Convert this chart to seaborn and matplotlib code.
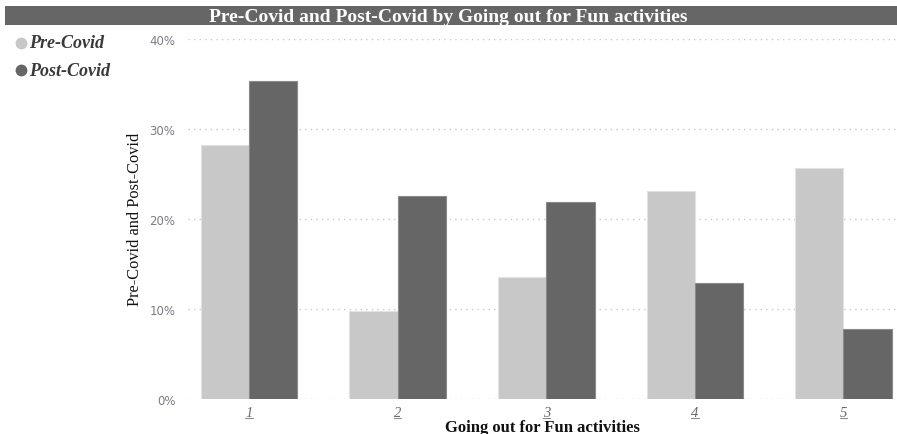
import matplotlib
matplotlib.use("Agg")
import matplotlib.pyplot as plt
from matplotlib.patches import Rectangle
from matplotlib.lines import Line2D
from matplotlib.ticker import FuncFormatter
import seaborn as sns
import pandas as pd

# Share of respondents per rating for going out for fun activities
categories = ["1", "2", "3", "4", "5"]
pre_covid = [28.2, 9.7, 13.5, 23.1, 25.7]
post_covid = [35.3, 22.5, 21.9, 12.9, 7.8]
series_names = ["Pre-Covid", "Post-Covid"]
colors = {"Pre-Covid": "#C8C8C8", "Post-Covid": "#666666"}
y_ticks = [0, 10, 20, 30, 40]

df = pd.DataFrame({
    "rating": categories * 2,
    "share": pre_covid + post_covid,
    "period": [series_names[0]] * len(categories) + [series_names[1]] * len(categories),
})

sns.set_theme(style="white")
serif = ["Liberation Serif", "DejaVu Serif"]
plt.rcParams["font.family"] = ["DejaVu Sans"]

W, H = 897, 435
fig = plt.figure(figsize=(W / 100, H / 100), dpi=100)
ax = fig.add_axes([188 / W, 1 - 399.7 / H, 1 - 188 / W, (399.7 - 40) / H])

sns.barplot(data=df, x="rating", y="share", hue="period", order=categories,
            hue_order=series_names, palette=colors, width=0.65, gap=0,
            saturation=1, legend=False, ax=ax, zorder=3)
for patch in ax.patches:
    fc = patch.get_facecolor()
    patch.set_edgecolor("#E2E2E2" if fc[0] > 0.6 else "#8A8A8A")
    patch.set_linewidth(0.8)

ax.set_ylim(0, 40)
ax.set_xlim(-0.41, 4.36)
ax.set_yticks(y_ticks)
ax.yaxis.set_major_formatter(FuncFormatter(lambda v, p: f"{v:.0f}%"))
ax.grid(axis="y", color="#C8C8C8", linestyle=(0, (1, 3)), linewidth=1.0, zorder=0)
ax.grid(axis="x", visible=False)
for s in ax.spines.values():
    s.set_visible(False)

ax.tick_params(axis="y", length=0, pad=9, labelsize=8.5, labelcolor="#7E7A86")
ax.tick_params(axis="x", length=0, pad=5, labelsize=10.5, labelcolor="#6A6A6A")
for lbl in ax.get_xticklabels():
    lbl.set_family(serif)
    lbl.set_style("italic")

ax.set_ylabel("Pre-Covid and Post-Covid", family=serif, fontsize=11.8,
              color="#111111", labelpad=5)
ax.set_xlabel("Going out for Fun activities", family=serif, fontsize=12,
              fontweight="bold", color="#111111", labelpad=0.5)

# Title banner across the top
fig.patches.append(Rectangle((5 / W, 1 - 26 / H), 1 - 5 / W, 18.7 / H,
                             transform=fig.transFigure, facecolor="#666666",
                             edgecolor="none", zorder=0))
fig.text(0.5, 1 - 22.3 / H, "Pre-Covid and Post-Covid by Going out for Fun activities",
         ha="center", va="baseline", color="white", fontsize=14, fontweight="bold",
         family=serif)

# Legend entries with round markers in the top-left corner
for i, name in enumerate(series_names):
    y = 1 - (44 + 27 * i) / H
    fig.add_artist(Line2D([21 / W], [y], marker="o", linestyle="none", markersize=7.5,
                          markerfacecolor=colors[name], markeredgecolor=colors[name],
                          transform=fig.transFigure))
    fig.text(29 / W, y, name, ha="left", va="center", family=serif, style="italic",
             fontweight="bold", fontsize=13, color="#3A3A3A")

# Underline the category tick labels
fig.canvas.draw()
renderer = fig.canvas.get_renderer()
for lbl in ax.get_xticklabels():
    bb = lbl.get_window_extent(renderer)
    y = bb.y0 + 1
    fig.add_artist(Line2D([bb.x0 / W, bb.x1 / W], [y / H, y / H],
                          transform=fig.transFigure, color="#8A8A8A", linewidth=0.8))

fig.savefig("out.png", dpi=100)
